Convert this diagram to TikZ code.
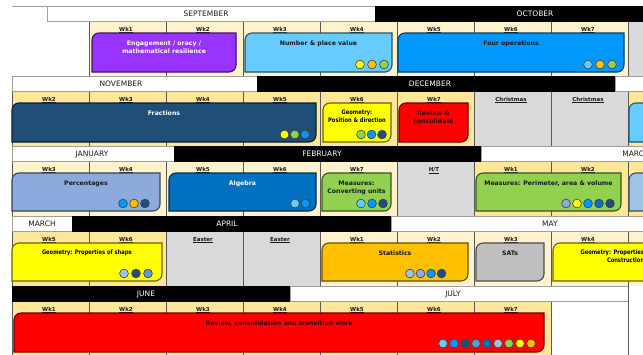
\documentclass[tikz,border=0pt]{standalone}
\usepackage{fontspec}
\setmainfont{DejaVu Sans}
\newfontfamily\narrowfont[FakeStretch=0.83]{DejaVu Sans}
\definecolor{cLight}{HTML}{FFF2CC}
\definecolor{cDark}{HTML}{FFE699}
\definecolor{cGray}{HTML}{D9D9D9}
\definecolor{cGrid}{HTML}{595959}
\definecolor{cHdrLine}{HTML}{A0A0A0}
\definecolor{cPurple}{HTML}{9933FF}
\definecolor{cSky}{HTML}{66CCFF}
\definecolor{cBlue}{HTML}{0099FF}
\definecolor{cNavy}{HTML}{1F4E79}
\definecolor{cYellow}{HTML}{FFFF00}
\definecolor{cRed}{HTML}{FF0000}
\definecolor{cPeri}{HTML}{8EA9DB}
\definecolor{cMid}{HTML}{0070C0}
\definecolor{cGreen}{HTML}{92D050}
\definecolor{cOrange}{HTML}{FFC000}
\definecolor{cSats}{HTML}{BFBFBF}
\definecolor{cPale}{HTML}{9DC3E6}
\definecolor{cSteel}{HTML}{5B9BD5}
\definecolor{cDot}{HTML}{404040}
\definecolor{cInk}{HTML}{1A1A1A}
\definecolor{cRedInk}{HTML}{3A0000}
\tikzset{
  gridline/.style={draw=cGrid, line width=0.6pt},
  hdrw/.style={draw=cHdrLine, fill=white, line width=0.7pt},
  hdrb/.style={draw=black, fill=black},
  mtext/.style={font=\fontsize{7.5}{9}\selectfont, text=cInk, inner sep=0pt, anchor=base},
  mtextw/.style={mtext, text=white},
  wklabel/.style={font=\bfseries\fontsize{5.5}{7}\selectfont, text=cInk, inner sep=0pt, anchor=base},
  btext/.style={font=\bfseries\fontsize{6.2}{8}\selectfont, text=cInk, inner sep=0pt, anchor=base},
  ntext/.style={font=\narrowfont\bfseries\fontsize{6.2}{8}\selectfont, text=black, inner sep=0pt, anchor=base},
  dotstyle/.style={draw=cDot, line width=0.6pt}
}
\newcommand\wkcol[5]{%
  \path[fill=#4] (#2,{#3+15}) rectangle ({#2+77},{#3+70});
  \draw[gridline] (#2,{#3+15}) -- (#2,{#3+70}) ({#2+77},{#3+15}) -- ({#2+77},{#3+70});
  \node[wklabel] (#1) at ({#2+37},{#3+25}) {\underline{#5}};
}
\newcommand\plaincol[3]{%
  \path[fill=#3] (#1,{#2+15}) rectangle ({#1+77},{#2+70});
  \draw[gridline] (#1,{#2+15}) -- (#1,{#2+70}) ({#1+77},{#2+15}) -- ({#1+77},{#2+70});
}
\newcommand\mkbox[5]{%
  \path[fill=#5, draw=#5!40!black, line width=1.1pt] (#1,#4) -- (#1,{#2+7}) .. controls (#1,{#2+3.1}) and ({#1+3.1},#2) .. ({#1+7},#2) -- (#3,#2) -- (#3,{#4-7}) .. controls (#3,{#4-3.1}) and ({#3-3.1},#4) .. ({#3-7},#4) -- cycle;
}
\newcommand\dotrow[4]{%
  \foreach \c [count=\i from 0] in {#4} {\path[dotstyle, fill=\c] ({#1+\i*#3},#2) circle[radius=4.4];}
}
\begin{document}
\begin{tikzpicture}[x=1pt,y=-1pt]
\useasboundingbox (0,0) rectangle (643,354);
\begin{scope}
\clip (0,0) rectangle (643,354);
\fill[white] (0,0) rectangle (643,354);

% ===== Row 1 (Y=6) =====
\wkcol{a1}{89}{6}{cLight}{Wk1}
\wkcol{a2}{166}{6}{cLight}{Wk2}
\wkcol{a3}{243}{6}{cLight}{Wk3}
\wkcol{a4}{320}{6}{cLight}{Wk4}
\wkcol{a5}{397}{6}{cLight}{Wk5}
\wkcol{a6}{474}{6}{cLight}{Wk6}
\wkcol{a7}{551}{6}{cLight}{Wk7}
\plaincol{628}{6}{cGray}
% ===== Row 2 (Y=76) =====
\wkcol{b1}{12}{76}{cDark}{Wk2}
\wkcol{b2}{89}{76}{cDark}{Wk3}
\wkcol{b3}{166}{76}{cDark}{Wk4}
\wkcol{b4}{243}{76}{cDark}{Wk5}
\wkcol{b5}{320}{76}{cDark}{Wk6}
\wkcol{b6}{397}{76}{cDark}{Wk7}
\wkcol{b7}{474}{76}{cGray}{Christmas}
\wkcol{b8}{551}{76}{cGray}{Christmas}
\plaincol{628}{76}{cDark}
% ===== Row 3 (Y=146) =====
\wkcol{c1}{12}{146}{cLight}{Wk3}
\wkcol{c2}{89}{146}{cLight}{Wk4}
\wkcol{c3}{166}{146}{cLight}{Wk5}
\wkcol{c4}{243}{146}{cLight}{Wk6}
\wkcol{c5}{320}{146}{cLight}{Wk7}
\wkcol{c6}{397}{146}{cGray}{H/T}
\wkcol{c7}{474}{146}{cDark}{Wk1}
\wkcol{c8}{551}{146}{cDark}{Wk2}
\plaincol{628}{146}{cDark}
% ===== Row 4 (Y=216) =====
\wkcol{d1}{12}{216}{cDark}{Wk5}
\wkcol{d2}{89}{216}{cDark}{Wk6}
\wkcol{d3}{166}{216}{cGray}{Easter}
\wkcol{d4}{243}{216}{cGray}{Easter}
\wkcol{d5}{320}{216}{cLight}{Wk1}
\wkcol{d6}{397}{216}{cLight}{Wk2}
\wkcol{d7}{474}{216}{cLight}{Wk3}
\wkcol{d8}{551}{216}{cLight}{Wk4}
\plaincol{628}{216}{cLight}
% ===== Row 5 (Y=286) =====
\wkcol{e1}{12}{286}{cDark}{Wk1}
\wkcol{e2}{89}{286}{cDark}{Wk2}
\wkcol{e3}{166}{286}{cDark}{Wk3}
\wkcol{e4}{243}{286}{cDark}{Wk4}
\wkcol{e5}{320}{286}{cDark}{Wk5}
\wkcol{e6}{397}{286}{cDark}{Wk6}
\wkcol{e7}{474}{286}{cDark}{Wk7}
\plaincol{551}{286}{white}

% ===== Month headers =====
\draw[draw=cHdrLine, line width=0.7pt] (12,6) -- (47,6);
\path[hdrw] (47,6) rectangle (375,21);
\node[mtext] (m1) at (206,16.2) {SEPTEMBER};
\path[hdrb] (375,6) rectangle (700,21);
\node[mtextw] (m2) at (535,16.2) {OCTOBER};

\path[hdrw] (12,76) rectangle (257,91);
\node[mtext] (m3) at (121,86.2) {NOVEMBER};
\path[hdrb] (257,76) rectangle (615,91);
\node[mtextw] (m4) at (430,86.2) {DECEMBER};
\path[hdrw] (615,76) rectangle (700,91);

\path[hdrw] (12,146) rectangle (174,161);
\node[mtext] (m5) at (92,156.2) {JANUARY};
\path[hdrb] (174,146) rectangle (481,161);
\node[mtextw] (m6) at (322,156.2) {FEBRUARY};
\path[hdrw] (481,146) rectangle (700,161);
\node[mtext] (m7) at (636,156.2) {MARCH};

\path[hdrw] (12,216) rectangle (72,231);
\node[mtext] (m8) at (42,226.2) {MARCH};
\path[hdrb] (72,216) rectangle (391,231);
\node[mtextw] (m9) at (227,226.2) {APRIL};
\path[hdrw] (391,216) rectangle (700,231);
\node[mtext] (m10) at (550,226.2) {MAY};

\path[hdrb] (12,286) rectangle (290,301);
\node[mtextw] (m11) at (146,296.2) {JUNE};
\path[hdrw] (290,286) rectangle (628,301);
\node[mtext] (m12) at (453,296.2) {JULY};
\draw[gridline] (628,286) -- (628,354);

% ===== Topic boxes =====
% Row 1
\mkbox{92}{33}{236}{72}{cPurple}
\node[btext, text=white] (t1a) at (164,45.3) {Engagement / oracy /};
\node[btext, text=white] (t1b) at (164,53.3) {mathematical resilience};
\mkbox{245}{33}{392}{72}{cSky}
\node[btext] (t2) at (318.5,45.3) {Number \& place value};
\dotrow{360}{64.5}{12}{cYellow,cOrange,cGreen}
\mkbox{398}{33}{624}{72}{cBlue}
\node[btext] (t3) at (511,45.3) {Four operations};
\dotrow{588}{64.5}{12}{cSky,cOrange,cGreen}

% Row 2
\mkbox{12}{103}{316}{142}{cNavy}
\node[btext, text=white] (t4) at (164,115.3) {Fractions};
\dotrow{284.5}{134.5}{10.3}{cYellow,cGreen,cBlue}
\mkbox{323}{103}{391}{142}{cYellow}
\node[ntext] (t5a) at (357,114.5) {Geometry:};
\node[ntext] (t5b) at (357,122.5) {Position \& direction};
\dotrow{361}{134.5}{10.5}{cGreen,cBlue,cNavy}
\mkbox{399}{103}{468}{142}{cRed}
\node[btext, text=cRedInk] (t6a) at (433.5,115.3) {Review \&};
\node[btext, text=cRedInk] (t6b) at (433.5,123.3) {consolidate};
\mkbox{629}{103}{720}{142}{cSky}

% Row 3
\mkbox{12}{173}{160}{211}{cPeri}
\node[btext] (t7) at (86,185.3) {Percentages};
\dotrow{123}{203.5}{11}{cBlue,cOrange,cNavy}
\mkbox{169}{173}{316}{211}{cMid}
\node[btext, text=white] (t8) at (242.5,185.3) {Algebra};
\dotrow{295}{203.5}{10.5}{cSky,cBlue}
\mkbox{322}{173}{391}{211}{cGreen}
\node[btext] (t9a) at (356.5,185.3) {Measures:};
\node[btext] (t9b) at (356.5,193.3) {Converting units};
\dotrow{361}{203.5}{11}{cSky,cBlue,cNavy}
\mkbox{476}{173}{621}{211}{cGreen}
\node[btext] (t10) at (548.5,185.3) {Measures: Perimeter, area \& volume};
\dotrow{566}{203.5}{11}{cPeri,cYellow,cBlue,cMid,cNavy}
\mkbox{629}{173}{720}{211}{cPale}

% Row 4
\mkbox{12}{243}{162}{281}{cYellow}
\node[ntext] (t11) at (87,254.5) {Geometry: Properties of shape};
\dotrow{124}{273.5}{12}{cPale,cNavy,cSteel}
\mkbox{322}{243}{468}{281}{cOrange}
\node[btext] (t12) at (395,255.3) {Statistics};
\dotrow{410}{273.5}{10.5}{cPale,cPeri,cBlue,cNavy}
\mkbox{476}{243}{544}{281}{cSats}
\node[btext] (t13) at (510,255.3) {SATs};
\mkbox{553}{243}{720}{281}{cYellow}
\node[ntext] (t14a) at (625.6,254.5) {Geometry: Properties of shape};
\node[ntext] (t14b) at (625.6,262.5) {Construction};

% Row 5
\mkbox{14}{313}{544}{352}{cRed}
\node[btext, text=cRedInk] (t15) at (279,325.3) {Review, consolidation and transition work};
\dotrow{443}{343.5}{11}{cSky,cBlue,cNavy,cSteel,cMid,cPale,cGreen,cYellow,cOrange}
\end{scope}
\end{tikzpicture}
\end{document}
